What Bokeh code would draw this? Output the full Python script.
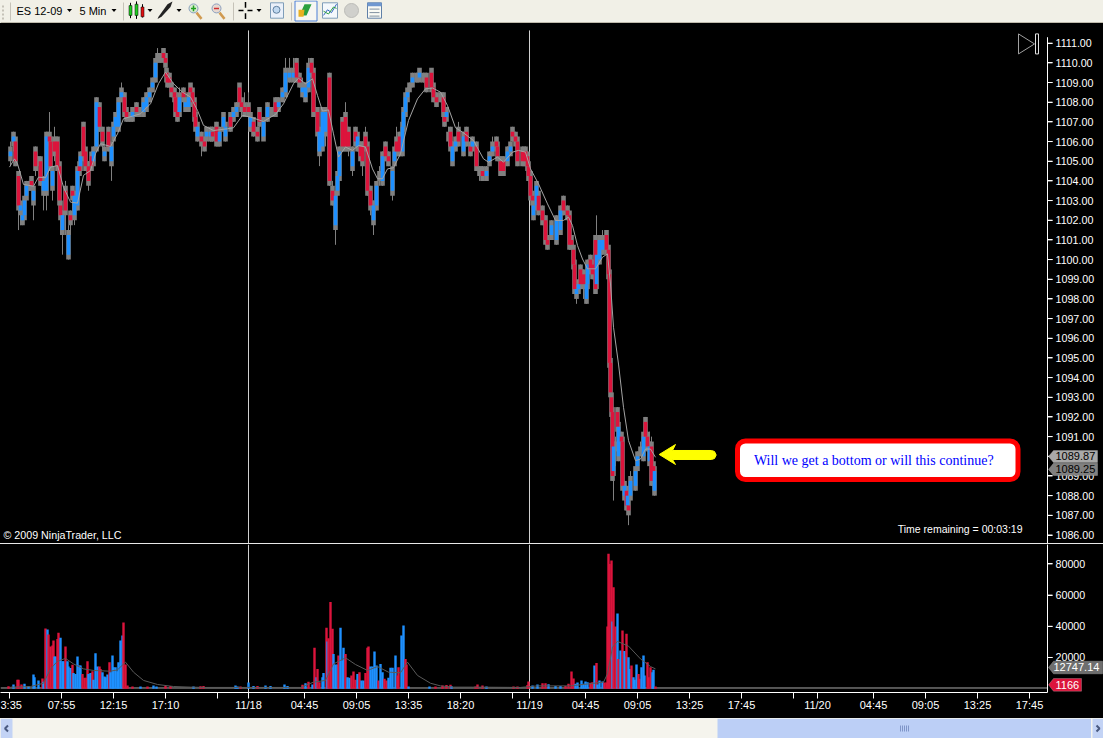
from bokeh.plotting import figure
from bokeh.layouts import column
from bokeh.models import (Range1d, LinearAxis, FixedTicker, NumeralTickFormatter, Label, BoxAnnotation,
                          PolyAnnotation, Span, ColumnDataSource)
from bokeh.embed import file_html
from bokeh.resources import INLINE

# ---------- data ----------
bars = [1,4,6,9,11,13,15,17,19,22,
        24,26,28,31,34,37,40,41,43,45,
        48,50,51,53,56,59,61,63,65,68,
        70,71,74,76,79,82,84,87,90,93,
        95,99,102,104,106,109,112,115,117,120,
        123,127,130,134,137,140,143,146,148,151,
        154,156,157,158,160,162,165,166,168,170,
        174,176,179,181,183,185,186,188,192,195,
        197,201,203,207,210,214,216,221,224,227,
        230,232,235,239,241,244,248,250,254,258,
        262,266,269,273,276,280,284,287,290,293,
        296,299,302,304,308,310,313,316,320,323,
        326,328,330,333,336,339,343,346,348,351,
        353,356,358,361,364,367,370,373,376,379,
        383,385,387,390,393,394,396,398,400,403,
        407,410,414,417,422,424,427,431,434,435,
        437,439,441,443,446,449,454,457,461,463,
        467,470,473,477,480,483,487,488,491,494,
        498,501,503,506,508,513,516,518,519,521,
        523,524,527,529,533,536,538,542,547,551,
        554,558,560,562,564,565,567,569,571,574,
        577,578,581,583,586,587,590,593,597,599,
        600,601,602,603,604,606,608,609,612,613,
        615,617,618,619,621,626,628,631,634,636,
        638,640,642,644,645]
opens = [1105.25,1106,1106,1104.25,1102.5,1102,1102.25,1103.25,1103.75,1104,
         1103,1105.5,1105,1105,1103.5,1103.5,1106.25,1106,1103.75,1106,
         1106,1104.75,1102.75,1101.5,1103.5,1100.25,1102.25,1103.5,1102.25,1102.75,
         1104.75,1104.75,1106.75,1105.5,1104.75,1105.25,1105,1105.75,1107.75,1106.5,
         1105.25,1106.5,1105,1106.25,1106.75,1106.75,1108.25,1108.25,1107.5,1107.25,
         1107.25,1107.75,1107.5,1107.5,1107.75,1108.25,1108.75,1109.25,1110.25,1110.25,
         1110.5,1110.25,1109.5,1109.25,1109.25,1108.75,1108.5,1108.25,1107.5,1107.5,
         1108.5,1107.75,1107.75,1108.75,1108.5,1108,1107.25,1106.25,1106.25,1106,
         1106.25,1106.25,1106.5,1106.75,1106,1106.75,1106.25,1107.25,1107.25,1107.5,
         1108.75,1108,1107.75,1107.75,1106.75,1107,1106.5,1107.5,1106.25,1107.25,
         1107.5,1108,1107.75,1108.25,1108.5,1109.25,1109.25,1110,1109.25,1108.5,
         1108.25,1108.75,1110,1109.5,1107.5,1105.5,1105.75,1106.5,1109.25,1103.5,
         1101.75,1103.5,1104.25,1107,1107.25,1106.5,1104.75,1106.5,1105.75,1105.75,
         1105.75,1106.25,1105.75,1103.5,1102,1102.75,1104.25,1104,1105.75,1105.25,
         1103.5,1105,1106,1106.25,1105.5,1106.75,1107.5,1108.25,1108.75,1109,
         1109.25,1109.25,1109.25,1109.25,1109.5,1108.75,1108.25,1108.25,1108.25,1107.25,
         1107.25,1106.25,1106.5,1105,1105.75,1106.5,1105.5,1106.5,1105.75,1105.75,
         1105.75,1104.5,1104.5,1104.25,1105,1105.5,1106,1105.75,1105,1105,
         1105,1105.5,1106.5,1106.25,1106,1105.5,1105.5,1105.25,1104.75,1104.25,
         1103.25,1102.25,1102.75,1103.25,1102.5,1102,1101,1101.25,1101,1101.5,
         1103,1102.5,1102.25,1101,1100.5,1099.75,1098.25,1098.5,1099.5,1099.25,
         1098,1098.75,1100,1099.75,1101,1098.75,1100,1100.5,1101.25,1100.5,
         1099.25,1094.75,1093,1092.25,1089.25,1090.5,1092.25,1090,1091,1090.75,
         1088,1088.25,1087.5,1087.5,1088,1088.5,1089.5,1090.25,1090,1091.75,
         1091,1089.75,1090.5,1089.5,1088.25]
closes = [1105.5,1106.25,1105,1102.75,1102.75,1102.25,1103,1103.75,1103.75,1103.75,
          1103.5,1104.75,1105,1104,1104,1106.25,1106,1104.75,1104.5,1105.5,
          1104.75,1103,1102.25,1102.25,1102.5,1101.25,1102,1103.25,1103.25,1104.5,
          1104.5,1105.25,1105.25,1104.75,1104,1104.75,1105.5,1108,1106.75,1106,
          1105.5,1105.75,1105.75,1106.75,1107.25,1108,1108.5,1107.5,1107.25,1107.25,
          1107.5,1107.5,1107.5,1108,1108.25,1108.5,1109,1110,1110.25,1110.25,
          1110.25,1110,1109.25,1109,1109,1108.5,1108.25,1107.5,1107.25,1108.25,
          1108.25,1108,1108.25,1108.5,1108,1107.25,1106.75,1106.75,1106,1105.75,
          1106.5,1106.5,1106.25,1106,1106.5,1107.25,1106.75,1106.75,1107.5,1107.75,
          1108,1107.75,1107.5,1107.5,1107.25,1106.5,1106.25,1107,1107,1107.75,
          1107.5,1107.5,1108,1108.5,1109.5,1109.5,1109.5,1109.25,1109,1108.75,
          1108.75,1109.75,1109.5,1107.5,1106.5,1106.5,1107.5,1107.5,1104,1103,
          1103.25,1104.25,1105.5,1105.75,1105.75,1105.75,1105.5,1106,1106.25,1105.25,
          1105,1105.75,1103.5,1102.75,1102.75,1103.75,1104.25,1105.25,1105.25,1105,
          1104.5,1105.5,1105.5,1105.5,1106.75,1107.5,1108.25,1108.5,1108.75,1109.25,
          1109.25,1109.5,1109.25,1108.75,1108.75,1108.25,1108,1108.25,1107.5,1107,
          1107.5,1106.25,1105.75,1105.75,1106,1106,1106.25,1106,1105.5,1106,
          1104.75,1104.5,1104.25,1104.5,1105.25,1105.75,1105.75,1105.25,1104.5,1104.5,
          1105.5,1105.75,1106.25,1106,1105,1105,1105,1104.75,1104.25,1103.25,
          1103,1102.75,1103.75,1102.5,1102,1101,1100.75,1101.75,1102,1102.5,
          1102.5,1102.25,1100.75,1100.75,1099.75,1098.5,1098.5,1098.75,1098.75,1098.75,
          1098.75,1099.75,1099.5,1099.25,1098.5,1100.25,1101,1101,1100.5,1099.25,
          1094.75,1093.25,1092.25,1089,1090.5,1090.5,1091.5,1091.5,1090.75,1088.5,
          1088.5,1087.5,1088,1087.25,1088.75,1089.25,1090,1090.25,1091,1091,
          1090.5,1090.5,1088.75,1089.25,1089.25]
highs = [1106,1106.5,1106.25,1104.5,1103,1102.5,1103.25,1104,1104,1104.25,
         1103.75,1105.75,1105.25,1105.25,1104.25,1106.5,1107.5,1106.25,1104.75,1106.75,
         1106.25,1105,1103,1102.5,1104,1101.75,1102.5,1103.75,1103.5,1104.75,
         1105,1105.5,1107,1105.75,1105,1105.5,1105.75,1108.25,1108,1106.75,
         1105.75,1106.75,1106,1107,1107.5,1108.25,1109,1108.5,1107.75,1107.5,
         1107.75,1108,1107.75,1108.25,1108.5,1108.75,1109.25,1110.25,1110.75,1110.5,
         1110.5,1110.5,1109.75,1109.5,1109.5,1109,1108.75,1108.5,1107.75,1108.75,
         1108.75,1108.25,1108.5,1108.75,1108.75,1108.25,1107.5,1107,1106.5,1106.25,
         1106.75,1106.75,1106.75,1107,1106.75,1107.5,1107,1107.5,1107.75,1108,
         1108.75,1108.25,1108.5,1108.5,1107.5,1107.25,1106.75,1107.75,1107.25,1108,
         1107.75,1108.25,1108.25,1108.75,1110.25,1110.25,1110.25,1110.25,1109.5,1109.25,
         1109,1110.25,1110.25,1109.75,1107.75,1106.75,1107.75,1107.75,1109.5,1104,
         1103.5,1104.5,1105.75,1107.25,1108,1106.75,1105.75,1106.75,1106.5,1106,
         1106,1106.75,1106,1103.75,1103,1104,1104.75,1105.5,1106,1105.5,
         1104.75,1105.75,1106.75,1106.5,1107,1107.75,1108.5,1108.75,1109,1109.5,
         1109.5,1109.5,1109.5,1109.5,1109.5,1109,1108.5,1108.5,1108.5,1107.5,
         1107.75,1106.75,1106.75,1106,1106.25,1107,1106.5,1106.75,1106,1106.25,
         1106,1104.75,1104.75,1104.75,1105.5,1106.25,1106.25,1106,1105.25,1105.25,
         1105.75,1106,1106.75,1106.5,1106.25,1105.75,1105.75,1105.5,1105,1104.5,
         1103.5,1103,1104,1103.5,1102.75,1102.25,1101.25,1102,1102.25,1102.75,
         1103.25,1102.75,1102.5,1101.25,1100.75,1100,1098.75,1099,1099.75,1099.5,
         1099,1100,1100.25,1100,1101.25,1102.25,1101.25,1101.5,1101.5,1100.75,
         1099.5,1095,1093.25,1092.5,1091,1091,1092.5,1092,1091.25,1091,
         1088.75,1088.5,1088.25,1087.75,1089.25,1089.5,1090.25,1090.75,1091.25,1092,
         1091.25,1091.25,1091,1089.75,1089.5]
lows = [1104.75,1105.5,1104.75,1101.5,1101.75,1101.75,1102,1103,1103.5,1103.5,
        1102,1104.25,1104.5,1103.75,1102.5,1102.5,1105.5,1104.5,1103,1105,
        1104.5,1102.75,1101.25,1100.25,1101.25,1100,1101.25,1102,1101.75,1102.5,
        1104.25,1104.5,1105,1104.5,1103.5,1104.5,1104.75,1105.5,1106.5,1105.5,
        1105,1105.5,1104,1106,1106.5,1106.5,1108,1107.25,1107,1107,
        1107,1107.25,1107.25,1107.25,1107.5,1108,1108.5,1109,1110,1110,
        1110,1109.75,1109,1108.75,1108.75,1108.25,1108,1107.25,1107,1107.25,
        1108,1107.5,1107.5,1108.25,1107.75,1107,1106.5,1106,1105.25,1105.5,
        1105.75,1106,1106,1105.75,1105.75,1106.5,1106,1106.5,1107,1107.25,
        1107.75,1107.25,1107.25,1107.25,1106.5,1106.25,1106,1106.75,1106.25,1107,
        1107.25,1107.25,1107.5,1108,1108.25,1109,1109,1109,1108.75,1108.25,
        1108,1108.5,1109.25,1107.25,1105.5,1104.75,1105.5,1105.75,1103.75,1102.75,
        1100.75,1103.25,1104,1105.5,1105.5,1105.25,1104.25,1105.75,1105.5,1105,
        1104.25,1105.5,1103.25,1102.25,1101.25,1102.5,1103.75,1103.75,1105,1104.75,
        1103,1104.75,1105.25,1105.25,1105.25,1106.5,1107.25,1108,1108.5,1108.75,
        1109,1109.25,1109,1108.5,1108.5,1108,1107.75,1108,1107.25,1106.75,
        1107,1105.75,1105.5,1104.75,1105.5,1105.75,1105.25,1105.75,1105.25,1105.5,
        1104.5,1104,1104,1104,1104.75,1105.25,1105.5,1105,1104.25,1104.25,
        1104.75,1105.25,1106,1105.75,1104.75,1104.75,1104.75,1104.5,1104,1103,
        1102.75,1102,1102.5,1102.25,1101.75,1100.75,1100.5,1101,1100.75,1101.25,
        1102.25,1102,1100.5,1100.5,1099.5,1098.25,1097.75,1098.25,1098.5,1098,
        1097.75,1098.5,1099.25,1099,1098.25,1098.5,1099.75,1100.25,1100.25,1099,
        1094.5,1093,1092,1088.75,1087.75,1089.5,1091.25,1089.75,1090.5,1088.25,
        1087.75,1087.25,1087.25,1086.5,1087.75,1088.25,1089.25,1090,1089.75,1090.75,
        1090.25,1089.5,1088.5,1089,1088]

ma_bars = [0,5,8,14,24,29,36,41,48,54,61,68,74,81,86,91,101,108,114,131,141,149,156,164,173,181,188,194,204,218,
           224,233,241,254,266,274,284,289,296,303,308,313,319,324,329,336,343,349,356,363,368,373,378,384,391,399,
           408,416,423,431,438,446,453,464,474,479,488,494,503,509,516,521,529,538,546,554,559,563,568,573,578,586,
           593,598,601,604,609,614,619,626,631,636,641,646]
ma_vals = [1104.70,1105.12,1104.87,1103.82,1103.73,1104.19,1104.16,1104.70,1104.78,1103.68,1102.92,1102.87,1104.28,
           1104.53,1105.38,1105.89,1105.75,1106.39,1107.16,1107.41,1107.92,1108.94,1109.53,1108.94,1108.51,1108.26,
           1107.58,1106.82,1106.56,1106.65,1106.70,1107.33,1107.24,1107.02,1107.38,1107.92,1108.94,1109.22,1108.94,
           1109.19,1108.34,1107.55,1107.61,1106.39,1105.21,1105.72,1105.55,1105.80,1105.72,1104.61,1104.11,1104.11,
           1104.61,1104.67,1105.38,1107.07,1108.17,1108.68,1108.72,1108.51,1107.83,1106.70,1106.48,1106.05,1105.12,
           1104.95,1105.21,1104.95,1105.46,1105.55,1105.46,1104.61,1103.85,1102.83,1101.99,1101.99,1102.16,1101.73,
           1100.71,1100.03,1099.53,1099.53,1100.12,1100.29,1098.76,1096.56,1094.69,1092.49,1090.80,1089.78,1089.86,
           1090.37,1090.37,1089.95]

down_vol_bars = [-1,8,9,12,33,36,39,41,43,44,48,49,56,63,73,75,77,78,83,90,91,100,114,116,118,123,138,156,161,191,194,
                 231,248,293,299,305,308,310,317,319,321,323,329,336,342,344,346,350,356,358,359,369,375,377,388,389,
                 396,397,426,433,437,441,466,468,473,504,508,518,519,533,536,556,559,562,564,581,583,587,595,597,598,
                 599,600,602,604,606,609,613,617,622,629,630,638,639,641,646]
down_vol_vals = [1600,5700,5700,2700,6500,38600,34700,27000,27700,30900,31900,35800,27000,15300,9500,7000,7000,17600,
                 11200,14200,12700,17000,42400,15500,2100,1400,1400,1800,1800,1600,1800,1400,1800,2500,4400,26200,
                 12700,4200,39000,32400,55500,38400,21300,22300,8500,11000,5700,10600,10000,26200,27000,5300,6300,
                 5300,8500,13800,19100,15500,1400,2100,2300,2500,1400,2700,2100,1400,1400,2300,4600,3500,3500,1800,
                 3100,11000,6500,3800,4200,16400,4000,4000,39900,86500,80000,82100,65100,39900,19100,37300,35200,
                 14900,9500,6300,17000,7400,13800,1400]
up_vol_bars = [4,15,19,24,25,29,34,38,45,46,51,53,54,58,59,61,64,66,68,70,71,79,81,84,86,88,93,95,96,98,101,103,104,
               106,108,109,111,113,131,144,147,184,226,228,239,244,256,261,275,278,296,303,307,313,314,318,324,326,
               328,331,333,334,338,340,348,352,354,361,363,365,367,371,373,379,381,383,386,392,394,399,420,442,477,
               523,528,539,546,551,566,568,572,574,576,578,585,588,590,593,603,608,611,615,616,619,620,624,625,627,
               632,634,635,643,644]
up_vol_vals = [2700,3100,1800,9100,7400,5300,4400,37900,20600,20600,32600,17600,17600,17600,14200,13200,10000,9500,
               20600,14900,14900,9500,10000,5700,22800,14200,10600,7800,7400,9100,10600,21300,13800,13800,11200,17000,
               30900,34100,1400,2100,1400,1400,2100,1400,4000,1800,2100,1800,2700,1800,3500,2700,7400,7400,10000,30300,
               22300,15500,15500,39000,18100,26200,7400,7000,9500,5300,5300,14200,14200,23800,14900,15900,10600,7000,
               13400,13400,21300,34100,40500,1400,1400,1600,1400,2100,2700,2900,1800,1800,3100,4000,5300,3100,4600,4200,
               14900,2700,5300,4600,43000,48200,24500,24100,20600,20200,12700,7400,5700,15500,13800,21300,8500,10600,
               12100]

vma_bars = [1,21,34,41,48,56,64,74,84,101,108,116,124,134,148,164,181,196,291,304,316,324,336,346,358,368,379,391,398,
            408,421,431,444,463,511,528,561,594,598,603,608,619,631,641,646]
vma_vals = [1000,1400,3500,12700,17600,19400,15900,12700,11700,11200,12100,17000,10600,5300,2700,1400,1000,800,800,4200,
            5300,15900,19800,15500,11700,14200,10600,10200,17000,8500,3500,1800,1000,1000,800,1800,1800,4200,9500,26600,
            30300,27300,19100,14200,12700]

price_ticks = [1086,1087,1088,1089,1090,1091,1092,1093,1094,1095,1096,1097,1098,1099,1100,1101,1102,1103,1104,1105,
               1106,1107,1108,1109,1110,1111]
vol_ticks = [20000, 40000, 60000, 80000]
time_ticks = [0,52,104,156,208,239,295,347,399,451,503,520,576,628,680,732,784,808,864,916,968,1020]
time_labels = ["3:35","07:55","12:15","17:10","","11/18","04:45","09:05","13:35","18:20","","11/19","04:45","09:05","13:25",
               "17:45","","11/20","04:45","09:05","13:25","17:45"]
day_breaks = [239, 520]
last_prices = ["1089.87", "1089.25"]
last_volumes = ["12747.14", "1166"]
note_text = "Will  we get a bottom or will this continue?"

# ---------- colours ----------
RED, BLUE, WICK = "#dc143c", "#1e90ff", "#808080"
FONT = "Liberation Sans"

# reference-pixel helpers for decoration only
def X(px): return px - 9
def P(py): return 1086 + (534.5 - py) / 19.67
def V(py): return (688.2 - py) / 31.2 * 20000

x_range = Range1d(-9, 1094)
AXIS_X = X(1047)

def base(h, xr, yr, **kw):
    return figure(width=1103, height=h, x_range=xr, y_range=yr, output_backend="svg", toolbar_location=None,
                  x_axis_type=None, y_axis_type=None, min_border=0, outline_line_color=None,
                  background_fill_color="black", border_fill_color="black", styles={"background-color": "black"}, **kw)

def label(f, x, y, text, color="white", size="11px", align="left", font=FONT, **kw):
    l = Label(x=x, y=y, text=text, text_color=color, text_font_size=size, text_align=align,
              text_baseline="middle", text_font=font, **kw)
    f.add_layout(l)
    return l

def marker(f, conv, left, right, top, bottom, fill, text, tcolor, tx):
    mid = (top + bottom) / 2
    f.add_layout(PolyAnnotation(xs=[X(left), X(left + 5), X(right), X(right), X(left + 5)],
                                ys=[conv(mid), conv(top), conv(top), conv(bottom), conv(bottom)],
                                fill_color=fill, fill_alpha=1, line_color="#c8c8c8", line_width=1))
    label(f, X(tx), conv(mid), text, color=tcolor)

# ---------- price panel ----------
price = base(520, x_range, Range1d(1085.568, 1112.0))
ax = LinearAxis(ticker=FixedTicker(ticks=price_ticks), formatter=NumeralTickFormatter(format="0.00"),
                fixed_location=AXIS_X, bounds=(1085.568, 1111.28), axis_line_color="white",
                major_tick_line_color="white", minor_tick_line_color=None, major_tick_in=0, major_tick_out=5,
                major_label_standoff=3, major_label_text_color="white", major_label_text_font=FONT,
                major_label_text_font_size="10.7px")
price.add_layout(ax, "right")
price.segment(x0=[AXIS_X], x1=[AXIS_X], y0=[1085.568], y1=[P(37)], line_color="white", line_width=1)
price.segment(x0=[AXIS_X] * len(price_ticks), x1=[AXIS_X + 5] * len(price_ticks), y0=price_ticks, y1=price_ticks,
              line_color="white", line_width=1)

price.segment(x0=day_breaks, x1=day_breaks, y0=[P(30)] * 2, y1=[1085.568] * 2, line_color="#d0d0d0", line_width=1)

tops = [max(o, c) for o, c in zip(opens, closes)]
bots = [min(o, c) for o, c in zip(opens, closes)]
cols = [BLUE if c > o else (RED if c < o else WICK) for o, c in zip(opens, closes)]
src = ColumnDataSource(dict(x=bars, top=tops, bot=bots, high=highs, low=lows, col=cols,
                            ht=[t + 0.25 for t in tops], hb=[b - 0.25 for b in bots]))
price.vbar(x="x", top="ht", bottom="hb", width=4.6, fill_color=WICK, line_color=None, source=src)
price.segment(x0="x", x1="x", y0="low", y1="high", line_color=WICK, line_width=1, source=src)
price.vbar(x="x", top="top", bottom="bot", width=3.6, fill_color="col", line_color=None, source=src)
price.line(ma_bars, ma_vals, line_color="#a4a4a4", line_width=1)

# yellow arrow
price.patch([X(v) for v in (658.7, 675, 672, 711, 714, 715.7, 714, 711, 672, 675)],
            [P(v) for v in (454, 444, 450, 450, 451, 454.5, 458, 459, 459, 464)],
            fill_color="#ffff00", line_color="#ffff00", line_width=1)
# play / end icon
price.line([X(v) for v in (1018, 1034, 1018, 1018)], [P(v) for v in (33.5, 43.5, 53.5, 33.5)],
           line_color="#a0a0a0", line_width=1)
price.line([X(v) for v in (1035, 1038, 1038, 1035, 1035)], [P(v) for v in (33.5, 33.5, 53.5, 53.5, 33.5)],
           line_color="#e0e0e0", line_width=1)

# note box
price.add_layout(BoxAnnotation(left=X(737), right=X(1017.5), top=P(440.5), bottom=P(479), fill_color="white", fill_alpha=1,
                               line_color="#ff0000", line_width=5, line_alpha=1, border_radius=8))
label(price, X(875), P(460.5), note_text, color="#0000ff", size="14px", align="center", font="Liberation Serif")
label(price, X(3), P(534), "\u00a9 2009 NinjaTrader, LLC", size="10.7px")
label(price, X(1022), P(528), "Time remaining = 00:03:19", align="right", size="10.5px")
marker(price, P, 1048, 1097, 450, 462, "#a9a9a9", last_prices[0], "black", 1055)
marker(price, P, 1048, 1097, 462.8, 475, "#808080", last_prices[1], "black", 1055)

# ---------- thin separator ----------
sep = figure(width=1103, height=1, x_range=x_range, y_range=Range1d(0, 1), output_backend="svg", toolbar_location=None,
             x_axis_type=None, y_axis_type=None, min_border=0, outline_line_color=None,
             background_fill_color="#e8e8e8", border_fill_color="#e8e8e8", styles={"background-color": "#e8e8e8"})

# ---------- volume panel ----------
vol = base(174, x_range, Range1d(-2436, 92436))
vol.min_border_bottom = 26
ax2 = LinearAxis(ticker=FixedTicker(ticks=vol_ticks), formatter=NumeralTickFormatter(format="0"),
                 fixed_location=AXIS_X, axis_line_color="white", major_tick_line_color="white",
                 minor_tick_line_color=None, major_tick_in=0, major_tick_out=5, major_label_standoff=3,
                 major_label_text_color="white", major_label_text_font=FONT, major_label_text_font_size="10.7px")
vol.add_layout(ax2, "right")
vol.segment(x0=[AXIS_X], x1=[AXIS_X], y0=[-2436], y1=[92436], line_color="white", line_width=1)
vol.segment(x0=[AXIS_X] * len(vol_ticks), x1=[AXIS_X + 5] * len(vol_ticks), y0=vol_ticks, y1=vol_ticks,
            line_color="white", line_width=1)
ax3 = LinearAxis(ticker=FixedTicker(ticks=time_ticks), major_label_overrides=dict(zip(time_ticks, time_labels)),
                 bounds=(-9, AXIS_X), axis_line_color="white", major_tick_line_color="white",
                 minor_tick_line_color=None, major_tick_in=0, major_tick_out=6, major_label_standoff=0,
                 major_label_text_color="white", major_label_text_font=FONT, major_label_text_font_size="11px")
vol.add_layout(ax3, "below")

for b in day_breaks:
    vol.add_layout(Span(location=b, dimension="height", line_color="#d0d0d0", line_width=1, level="underlay"))
vol.segment(x0=[X(0)], x1=[AXIS_X], y0=[V(687.5)], y1=[V(687.5)], line_color="#a8a8a8", line_width=1)
vol_rows = sorted([(b, v, RED) for b, v in zip(down_vol_bars, down_vol_vals)] +
                  [(b, v, BLUE) for b, v in zip(up_vol_bars, up_vol_vals)])
vsrc = ColumnDataSource(dict(x=[r[0] for r in vol_rows], top=[r[1] for r in vol_rows], col=[r[2] for r in vol_rows]))
vol.vbar(x="x", top="top", bottom=0, width=2.4, fill_color="col", line_color=None, source=vsrc)
vol.line(vma_bars, vma_vals, line_color="#5a5a5a", line_width=1)
marker(vol, V, 1048, 1102, 660.7, 673.3, "#6e6e6e", last_volumes[0], "white", 1053)
marker(vol, V, 1048, 1081, 678, 690.7, RED, last_volumes[1], "white", 1055)

# ---------- window chrome ----------
tx = Range1d(0, 1103)
bar = figure(width=1103, height=23, x_range=tx, y_range=Range1d(0, 23), output_backend="svg", toolbar_location=None,
             x_axis_type=None, y_axis_type=None, min_border=0, outline_line_color=None,
             background_fill_color="#f1f0e7", border_fill_color="#f1f0e7", styles={"background-color": "#f1f0e7"})
def Y(v): return 13 + (v - 7.5) * 1.4
bar.quad(left=[0], right=[1103], top=[1.2], bottom=[0], fill_color="#aca899", line_color=None)
bar.text(x=[16, 79], y=[13, 13], text=["ES 12-09", "5 Min"], text_font_size="11px", text_color="black",
         text_font={"value": FONT}, text_baseline="middle")
for ax_ in (66.5, 111, 147, 176, 256):
    bar.patch([ax_, ax_ + 5, ax_ + 2.5], [14.5, 14.5, 11.5], fill_color="black", line_color=None)
for sx in (10, 123, 233, 291):
    bar.segment([sx], [3], [sx], [21], line_color="#c5c2b8", line_width=1)
# grip
bar.segment([2.5], [4], [2.5], [20], line_color="#c5c2b8", line_width=2, line_dash="2 2")
# candle icon
bar.segment([130, 136, 142], [Y(2), Y(1.5), Y(2.5)], [130, 136, 142], [Y(13), Y(14), Y(12)], line_color="black", line_width=1)
bar.quad(left=[128.5, 134.5, 140.5], right=[131.5, 137.5, 143.5], top=[Y(11), Y(12), Y(10)], bottom=[Y(4), Y(4), Y(3)],
         fill_color=["#22cc22", "#22cc22", "#e01010"], line_color="black", line_width=0.5)
# pencil
bar.patch([158, 167, 172, 170, 161, 157], [Y(v) for v in (3, 12, 14, 10, 3, 1.5)], fill_color="#222222", line_color=None)
# magnifiers
bar.circle(x=[193, 216], y=[Y(9), Y(9)], radius=4.5, fill_color=["#d8ecd0", "#e8d8d0"], line_color="#8aa0c0")
bar.segment([196, 219], [Y(6), Y(6)], [201, 224], [Y(1.5), Y(1.5)], line_color="#d09a50", line_width=2.5)
bar.segment([190.5, 213.5], [Y(9), Y(9)], [195.5, 218.5], [Y(9), Y(9)], line_color=["#20a020", "#d03030"], line_width=1.5)
bar.segment([193], [Y(7)], [193], [Y(11)], line_color="#20a020", line_width=1.5)
# crosshair
bar.segment([238, 247, 245, 245], [Y(7.5), Y(7.5), Y(1.5), Y(9.5)], [243, 252, 245, 245], [Y(7.5), Y(7.5), Y(5.5), Y(13.5)],
            line_color="black", line_width=1.5)
# magnify box
bar.quad(left=[270], right=[283], top=[Y(13)], bottom=[Y(2)], fill_color="#eaf0fa", line_color="#7f9db9")
bar.circle(x=[276], y=[Y(8)], radius=3.5, fill_color="#c0d8f0", line_color="#6080a0")
# active button
bar.quad(left=[294.5], right=[316.5], top=[22.5], bottom=[2.5], fill_color="#f6f6f2", line_color="#4a7fd8", line_width=1)
bar.patch([299, 306, 311, 304], [Y(v) for v in (4, 4, 12, 12)], fill_color="#2aa040", line_color=None)
bar.patch([298, 303, 304, 298], [Y(v) for v in (3, 3, 8, 8)], fill_color="#e8b020", line_color=None)
# chart icon
bar.quad(left=[322], right=[337], top=[Y(13)], bottom=[Y(2)], fill_color="#f4f8fc", line_color="#7f9db9")
bar.line([323, 327, 331, 336], [Y(v) for v in (4, 8, 6, 12)], line_color="#3060c0", line_width=1)
bar.line([323, 328, 333, 336], [Y(v) for v in (7, 5, 10, 9)], line_color="#30a040", line_width=1)
# gray coin
bar.circle(x=[351], y=[Y(7.5)], radius=7, fill_color="#d0d0cc", line_color="#bcbcb8")
# table icon
bar.quad(left=[367], right=[381], top=[Y(13)], bottom=[Y(2)], fill_color="#fafaf4", line_color="#6080a8")
bar.quad(left=[367], right=[381], top=[Y(13)], bottom=[Y(10.5)], fill_color="#7098d0", line_color=None)
bar.segment([369, 369, 369], [Y(8.5), Y(6), Y(3.5)], [379, 379, 379], [Y(8.5), Y(6), Y(3.5)], line_color="#8090a0", line_width=1)

scr = figure(width=1103, height=20, x_range=tx, y_range=Range1d(0, 20), output_backend="svg", toolbar_location=None,
             x_axis_type=None, y_axis_type=None, min_border=0, outline_line_color=None,
             background_fill_color="#f5f4ed", border_fill_color="#f5f4ed", styles={"background-color": "#f5f4ed"})
scr.quad(left=[0, 717, 1092], right=[12, 1090.5, 1103], top=[20, 20, 20], bottom=[0, 0, 0],
         fill_color=["#c3d3f5", "#bccff6", "#c3d3f5"], line_color=None)
scr.segment([900, 902, 904, 906, 908], [7] * 5, [900, 902, 904, 906, 908], [13] * 5, line_color="#7f95c8", line_width=1)
scr.line([7.5, 4.5, 7.5], [13, 10, 7], line_color="#4a5a80", line_width=2)
scr.line([1096, 1099, 1096], [13, 10, 7], line_color="#4a5a80", line_width=2)

page = column(bar, price, sep, vol, scr, spacing=0)
open("out.html", "w").write(file_html(page, INLINE))
